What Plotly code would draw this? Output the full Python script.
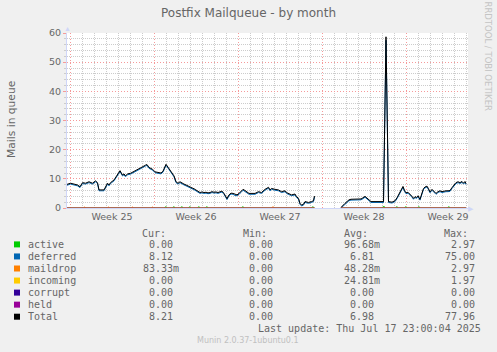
import plotly.graph_objects as go
import pandas as pd

# ---------------- data ----------------
START = pd.Timestamp("2025-06-15 00:00")

# hours since START
hours = [-6, 1, 8, 15, 20, 25, 31, 38, 45, 51,
         55, 58, 68, 71, 75, 78, 81, 88, 95, 100,
         105, 108, 111, 115, 121, 128, 135, 141, 148, 151,
         154, 158, 165, 170, 176, 182, 186, 192, 196, 200,
         204, 208, 212, 216, 220, 224, 228, 232, 236, 240,
         244, 248, 252, 256, 260, 264, 268, 272, 276, 280,
         284, 288, 292, 296, 300, 304, 308, 312, 314, 318,
         322, 326, 330, 334, 338, 342, 346, 350, 354, 358,
         362, 366, 370, 377, 383, 390, 397, 400, 403, 410,
         417, 423, 430, 433, 437, 443, 450, 453, 457, 460,
         463, 467, 470, 477, 483, 487, 489, 490, 542, 546,
         550, 554, 558, 562, 570, 576, 582, 586, 590, 594,
         598, 602, 610, 618, 627, 632, 637, 644, 650, 654,
         658, 662, 666, 669, 672, 676, 680, 684, 687, 690,
         693, 696, 700, 704, 707, 710, 714, 717, 720, 724,
         728, 732, 736, 740, 744, 748, 752, 756, 760, 764,
         768, 772, 776, 780, 784, 787, 790, 792]

total = [8.1, 8.5, 8.2, 7.9, 7.3, 8.7, 8.5, 9.0, 8.5, 9.3,
         8.7, 6.2, 6.2, 7.3, 8.5, 7.9, 8.7, 9.6, 11.3, 12.8,
         11.3, 11.7, 11.0, 11.7, 11.9, 12.5, 13.0, 13.6, 14.4, 14.7,
         14.9, 13.9, 13.3, 12.4, 12.2, 12.0, 12.6, 15.0, 14.0, 13.0,
         12.0, 11.0, 9.0, 8.5, 9.0, 8.5, 8.2, 7.9, 7.5, 7.3,
         6.9, 6.6, 6.2, 5.8, 5.3, 5.5, 5.3, 5.4, 5.2, 5.3,
         5.6, 5.4, 5.5, 5.3, 5.5, 5.8, 5.0, 3.8, 3.2, 4.5,
         5.1, 5.0, 4.6, 4.5, 5.0, 5.6, 6.4, 6.0, 5.6, 5.0,
         5.0, 5.0, 5.0, 5.6, 5.3, 6.4, 7.1, 6.2, 6.7, 6.4,
         6.2, 5.6, 5.9, 5.3, 5.0, 4.5, 4.8, 3.9, 3.3, 1.6,
         1.0, 1.3, 2.2, 1.9, 2.2, 2.5, 4.1, None, 0.2, 1.0,
         1.6, 2.2, 2.8, 3.0, 3.0, 3.1, 3.1, 3.5, 4.0, 3.4,
         2.8, 2.2, 2.2, 2.2, 2.2, 58.7, 2.2, 2.0, 2.5, 3.5,
         4.8, 5.6, 7.4, 6.0, 5.2, 5.4, 4.8, 4.0, 3.3, 3.9,
         3.6, 4.2, 3.0, 5.0, 6.7, 7.2, 7.5, 6.6, 5.5, 6.4,
         5.8, 5.0, 5.6, 5.9, 5.6, 5.8, 5.9, 5.9, 6.0, 7.0,
         8.0, 8.7, 9.0, 8.7, 9.1, 8.5, 9.1, 8.4]

deferred = [7.8, 8.2, 7.9, 7.6, 7.0, 8.4, 8.2, 8.7, 8.2, 9.0,
            8.4, 5.9, 5.9, 7.0, 8.2, 7.6, 8.4, 9.3, 11.0, 12.5,
            11.0, 11.4, 10.7, 11.4, 11.6, 12.2, 12.7, 13.3, 14.1, 14.4,
            14.6, 13.6, 13.0, 12.1, 11.9, 11.7, 12.3, 14.7, 13.7, 12.7,
            11.7, 10.7, 8.7, 8.2, 8.7, 8.2, 7.9, 7.6, 7.2, 7.0,
            6.6, 6.3, 5.9, 5.5, 5.0, 5.2, 5.0, 5.1, 4.9, 5.0,
            5.3, 5.1, 5.2, 5.0, 5.2, 5.5, 4.7, 3.5, 2.9, 4.2,
            4.8, 4.7, 4.3, 4.2, 4.7, 5.3, 6.1, 5.7, 5.3, 4.7,
            4.7, 4.7, 4.7, 5.3, 5.0, 6.1, 6.8, 5.9, 6.4, 6.1,
            5.9, 5.3, 5.6, 5.0, 4.7, 4.2, 4.5, 3.6, 3.0, 1.3,
            0.7, 1.0, 1.9, 1.6, 1.9, 2.2, 3.8, None, 0.0, 0.7,
            1.3, 1.9, 2.5, 2.7, 2.7, 2.8, 2.8, 3.2, 3.7, 3.1,
            2.5, 1.9, 1.9, 1.9, 1.9, 57.5, 1.9, 1.7, 2.2, 3.2,
            4.5, 5.3, 7.1, 5.7, 4.9, 5.1, 4.5, 3.7, 3.0, 3.6,
            3.3, 3.9, 2.7, 4.7, 6.4, 6.9, 7.2, 6.3, 5.2, 6.1,
            5.5, 4.7, 5.3, 5.6, 5.3, 5.5, 5.6, 5.6, 5.7, 6.7,
            7.7, 8.4, 8.7, 8.4, 8.8, 8.2, 8.8, 8.1]

active_hours = [-6, 190, 193, 206, 209, 222, 225, 238, 241, 256, 259, 272, 275,
                344, 347, 484, 487, 489, 490, 542, 626, 629, 652, 655, 670, 673, 696,
                699, 756, 759, 792]
active_vals = [0, 0.35, 0, 0.35, 0, 0.35, 0, 0.35, 0, 0.35, 0, 0.35, 0,
               0.35, 0, 0.35, 0, 0, None, 0, 0.45, 0, 0.35, 0, 0.35, 0, 0.35,
               0, 0.35, 0, 0]

maildrop_hours = [-6, 28, 30, 76, 78, 124, 126, 164, 166, 404, 408, 489, 490, 542, 792]
maildrop_vals = [0, 0.3, 0, 0.3, 0, 0.3, 0, 0.3, 0, 0.3, 0, 0, None, 0, 0]

zero_hours = [-6, 489, 490, 542, 792]
incoming_vals = [0, 0, None, 0, 0]
corrupt_vals = [0, 0, None, 0, 0]
held_vals = [0, 0, None, 0, 0]

week_starts = ["2025-06-15", "2025-06-22", "2025-06-29", "2025-07-06", "2025-07-13"]
week_mids = ["2025-06-18 12:00", "2025-06-25 12:00", "2025-07-02 12:00",
             "2025-07-09 12:00", "2025-07-16 12:00"]
week_labels = ["Week 25", "Week 26", "Week 27", "Week 28", "Week 29"]

series_names = ["active", "deferred", "maildrop", "incoming", "corrupt", "held", "Total"]
series_colors = ["#00CC00", "#0066B3", "#FF8000", "#FFCC00", "#330099", "#990099", "#000000"]
cur_vals = ["0.00", "8.12", "83.33m", "0.00", "0.00", "0.00", "8.21"]
min_vals = ["0.00", "0.00", "0.00", "0.00", "0.00", "0.00", "0.00"]
avg_vals = ["96.68m", "6.81", "48.28m", "24.81m", "0.00", "0.00", "6.98"]
max_vals = ["2.97", "75.00", "2.97", "1.97", "0.00", "0.00", "77.96"]

title = "Postfix Mailqueue - by month"
y_title = "Mails in queue"
last_update = "Last update: Thu Jul 17 23:00:04 2025"
munin_ver = "Munin 2.0.37-1ubuntu0.1"
side_text = "RRDTOOL / TOBI OETIKER"

# ---------------- figure ----------------
W, H = 497, 352
L, R, T, B = 67, 468, 33, 208


def tx(hs):
    return [START + pd.Timedelta(hours=h) for h in hs]


def pxp(x):
    return (x - L) / (R - L)


def pyp(y):
    return (B - y) / (B - T)


TXT = "#666666"
SANS = "DejaVu Sans"
MONO = "DejaVu Sans Mono"

fig = go.Figure()
ser = [
    (active_hours, active_vals, series_colors[0], "hv", 1.0),
    (hours, deferred, series_colors[1], "linear", 1.0),
    (maildrop_hours, maildrop_vals, series_colors[2], "hv", 1.0),
    (zero_hours, incoming_vals, series_colors[3], "linear", 1.0),
    (zero_hours, corrupt_vals, series_colors[4], "linear", 0.5),
    (zero_hours, held_vals, series_colors[5], "linear", 0.5),
    (hours, total, series_colors[6], "linear", 1.0),
]
for (hs, vs, c, shp, op), n in zip(ser, series_names):
    fig.add_trace(go.Scatter(x=tx(hs), y=vs, mode="lines", name=n, opacity=op,
                             line=dict(color=c, width=1, shape=shp),
                             connectgaps=False, showlegend=False, hoverinfo="skip"))

# dummy trace on overlay axis so its grid is drawn
fig.add_trace(go.Scatter(x=[START], y=[None], xaxis="x2", yaxis="y",
                         showlegend=False, hoverinfo="skip"))

x_lo = START + pd.Timedelta(hours=-6)
x_hi = START + pd.Timedelta(hours=796)
xr = [x_lo, x_hi]
RED = "#f59a9a"
GRAY = "#cccccc"
DOT = "1px,1px"
RDOT = "1px,2px"

# minor grid positions (days / every 2 units), skipping the major grid positions
week_ts = set(pd.to_datetime(week_starts))
day_grid = [d for d in pd.date_range("2025-06-14", "2025-07-19", freq="D") if d not in week_ts]
y_minor = [v for v in range(0, 61, 2) if v % 10 != 0]

fig.update_layout(
    width=W, height=H,
    margin=dict(l=L, r=W - R, t=T, b=H - B, pad=0),
    paper_bgcolor="#F0F0F0", plot_bgcolor="#FFFFFF",
    showlegend=False,
    xaxis=dict(type="date", range=xr, tickmode="array", tickvals=week_mids,
               ticktext=week_labels, showgrid=False, ticks="", zeroline=False,
               tickfont=dict(family=SANS, size=9.5, color=TXT),
               showline=True, linecolor="#CFD6F8", linewidth=1,
               minor=dict(tickmode="array", tickvals=day_grid, showgrid=True,
                          gridcolor=GRAY, griddash=DOT, gridwidth=1, ticks="")),
    xaxis2=dict(type="date", range=xr, overlaying="x", anchor="y", side="bottom",
                tickmode="array", tickvals=week_starts, showticklabels=False,
                showgrid=True, gridcolor=RED, griddash=RDOT, gridwidth=1,
                ticks="", zeroline=False, showline=False),
    yaxis=dict(range=[0, 60], tickmode="array", tickvals=[0, 10, 20, 30, 40, 50, 60],
               showgrid=True, gridcolor=RED,
               griddash=RDOT, gridwidth=1, zeroline=False,
               ticks="outside", ticklen=3, tickcolor=RED,
               tickfont=dict(family=SANS, size=9.5, color=TXT),
               showline=True, linecolor="#CFD6F8", linewidth=1,
               minor=dict(tickmode="array", tickvals=y_minor, showgrid=True,
                          gridcolor=GRAY, griddash=DOT, gridwidth=1,
                          ticks="outside", ticklen=2, tickcolor=GRAY)),
)

ann = []
ann.append(dict(text=title, x=pxp(248.5), y=pyp(13), xref="paper", yref="paper",
                showarrow=False, font=dict(family=SANS, size=12, color=TXT),
                xanchor="center", yanchor="middle"))
ann.append(dict(text=y_title, x=pxp(11), y=pyp(120), xref="paper", yref="paper",
                showarrow=False, textangle=-90,
                font=dict(family=SANS, size=10.7, color=TXT),
                xanchor="center", yanchor="middle"))
ann.append(dict(text=side_text, x=pxp(487.5), y=pyp(56), xref="paper", yref="paper",
                showarrow=False, textangle=90,
                font=dict(family=SANS, size=8.5, color="#C4C4C4"),
                xanchor="center", yanchor="middle"))
# axis arrows
ann.append(dict(text="▲", x=pxp(67), y=pyp(28), xref="paper", yref="paper",
                showarrow=False, font=dict(size=7, color="#CFD6F8"),
                xanchor="center", yanchor="middle"))
ann.append(dict(text="▶", x=pxp(471), y=pyp(208), xref="paper", yref="paper",
                showarrow=False, font=dict(size=7, color="#CFD6F8"),
                xanchor="center", yanchor="middle"))

mono = dict(family=MONO, size=10, color=TXT)
# headers
for hdr, xr_ in zip(["Cur:", "Min:", "Avg:", "Max:"], [168, 269, 369.5, 470]):
    ann.append(dict(text=hdr, x=pxp(xr_), y=pyp(233.3), xref="paper", yref="paper",
                    showarrow=False, font=mono, xanchor="right", yanchor="middle"))

shapes = []
row_y0 = 244.4
for i, n in enumerate(series_names):
    yy = row_y0 + i * 12.05
    shapes.append(dict(type="rect", xref="paper", yref="paper",
                       x0=pxp(14), x1=pxp(20), y0=pyp(yy - 3), y1=pyp(yy + 3),
                       fillcolor=series_colors[i], line=dict(width=0)))
    ann.append(dict(text=n, x=pxp(26), y=pyp(yy), xref="paper", yref="paper",
                    showarrow=False, font=mono, xanchor="left", yanchor="middle"))
    for vals, col_end in ((cur_vals, 181), (min_vals, 281.3), (avg_vals, 382.3), (max_vals, 482.7)):
        v = vals[i]
        end = col_end if v.endswith("m") else col_end - 6.02
        ann.append(dict(text=v, x=pxp(end), y=pyp(yy), xref="paper", yref="paper",
                        showarrow=False, font=mono, xanchor="right", yanchor="middle"))

ann.append(dict(text=last_update, x=pxp(482.5), y=pyp(328.3), xref="paper", yref="paper",
                showarrow=False, font=mono, xanchor="right", yanchor="middle"))
ann.append(dict(text=munin_ver, x=pxp(247.5), y=pyp(340.7), xref="paper", yref="paper",
                showarrow=False, font=dict(family=SANS, size=8, color="#C0C0C0"),
                xanchor="center", yanchor="middle"))

fig.update_layout(annotations=ann, shapes=shapes)
fig.write_html("out.html")
